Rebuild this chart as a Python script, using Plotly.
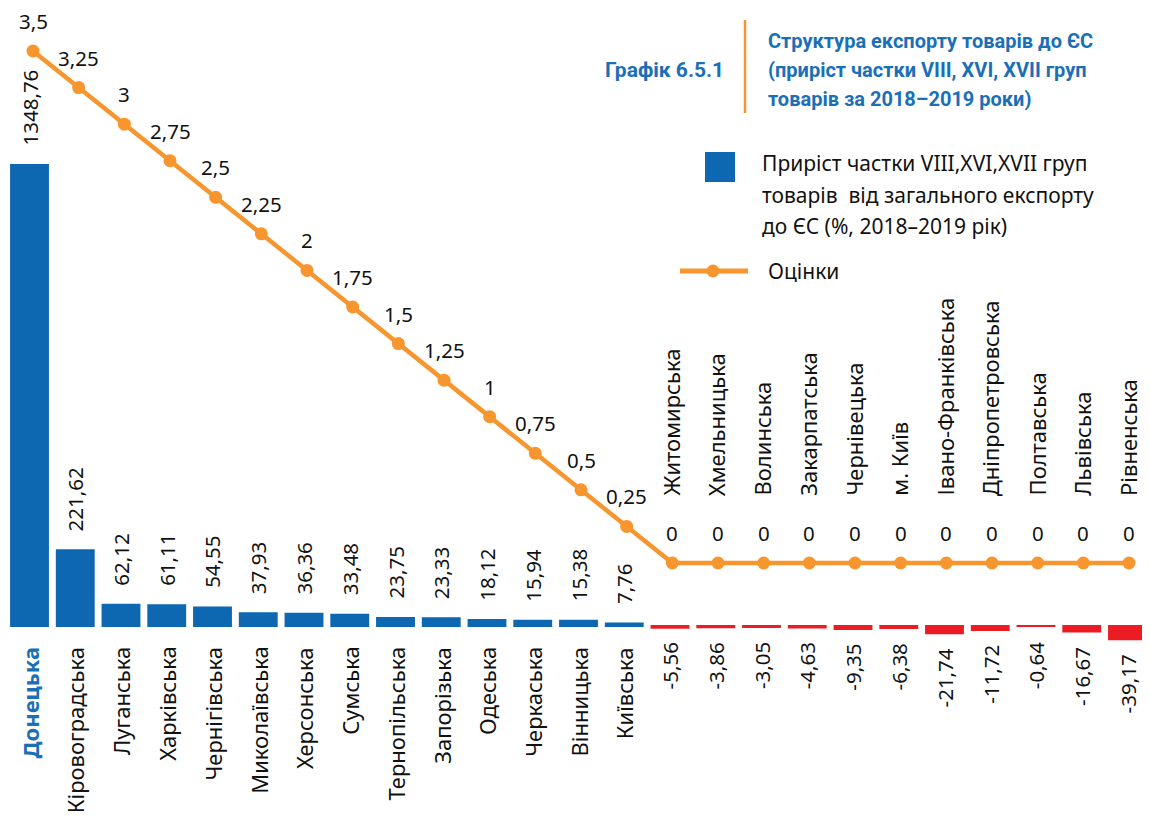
import plotly.graph_objects as go

regions = ["Донецька", "Кіровоградська", "Луганська", "Харківська", "Чернігівська",
           "Миколаївська", "Херсонська", "Сумська", "Тернопільська", "Запорізька",
           "Одеська", "Черкаська", "Вінницька", "Київська", "Житомирська",
           "Хмельницька", "Волинська", "Закарпатська", "Чернівецька", "м. Київ",
           "Івано-Франківська", "Дніпропетровська", "Полтавська", "Львівська", "Рівненська"]
growth = [1348.76, 221.62, 62.12, 61.11, 54.55, 37.93, 36.36, 33.48, 23.75, 23.33,
          18.12, 15.94, 15.38, 7.76, -5.56, -3.86, -3.05, -4.63, -9.35, -6.38,
          -21.74, -11.72, -0.64, -16.67, -39.17]
scores = [3.5, 3.25, 3, 2.75, 2.5, 2.25, 2, 1.75, 1.5, 1.25, 1, 0.75, 0.5, 0.25,
          0, 0, 0, 0, 0, 0, 0, 0, 0, 0, 0]
title_lines = ["Структура експорту товарів до ЄС",
               "(приріст частки VIII, XVI, XVII груп",
               "товарів за 2018–2019 роки)"]
legend_lines = ["Приріст частки VIII,XVI,XVII груп",
                "товарів  від загального експорту",
                "до ЄС (%, 2018–2019 рік)"]

BLUE = "#0E67B1"
RED = "#ED1C24"
ORANGE = "#F7962F"
TITLE_BLUE = "#1B6FB7"
FONT = "Noto Sans"
TFONT = "Liberation Sans Narrow, Roboto"

W, H = 1150, 817
OFF = 8  # page offset of the figure (body margin)
PW, PH = W, H


def fmt(v):
    return f"{v:g}".replace(".", ",")


def px_x(p):
    return (p - OFF) / PW


def px_y(p):
    return 1 - (p - OFF) / PH


bar_colors = [BLUE if v >= 0 else RED for v in growth]

fig = go.Figure()
fig.add_trace(go.Bar(
    x=regions, y=growth, marker=dict(color=bar_colors, line=dict(color=bar_colors, width=1.8)),
    name="Приріст частки", showlegend=False, hoverinfo="x+y"))
fig.add_trace(go.Scatter(
    x=regions, y=scores, xaxis="x2", yaxis="y2", mode="lines+markers",
    line=dict(color=ORANGE, width=4.5), marker=dict(color=ORANGE, size=13),
    name="Оцінки", showlegend=False))

ann = []
for i, (r, v) in enumerate(zip(regions, growth)):
    if v >= 0:
        txt = f"<b>{r}</b>" if i == 0 else r
        col = TITLE_BLUE if i == 0 else "#111111"
        ann.append(dict(x=r, y=0, xref="x", yref="y", text=txt, textangle=-90,
                        xanchor="center", yanchor="top", yshift=-19, showarrow=False,
                        font=dict(family=FONT, size=22, color=col)))
        ann.append(dict(x=r, y=v, xref="x", yref="y", text=fmt(v), textangle=-90,
                        xanchor="center", yanchor="bottom", yshift=17, showarrow=False,
                        font=dict(family=FONT, size=20.5, color="#111111")))
    else:
        ann.append(dict(x=r, y=0, xref="x", yref="y", text=r, textangle=-90,
                        xanchor="center", yanchor="bottom", yshift=128, showarrow=False,
                        font=dict(family=FONT, size=22, color="#111111")))
        ann.append(dict(x=r, y=v, xref="x", yref="y", text=fmt(v), textangle=-90,
                        xanchor="center", yanchor="top", yshift=-13, showarrow=False,
                        font=dict(family=FONT, size=20.5, color="#111111")))

for r, s in zip(regions, scores):
    ann.append(dict(x=r, y=s, xref="x2", yref="y2", text=fmt(s), xanchor="center",
                    yanchor="middle", yshift=30, showarrow=False,
                    font=dict(family=FONT, size=20.5, color="#111111")))

ann.append(dict(x=px_x(726), y=px_y(70), xref="paper", yref="paper", text="<b>Графік 6.5.1</b>",
                xanchor="right", yanchor="middle", showarrow=False,
                font=dict(family=TFONT, size=21, color=TITLE_BLUE)))
for line, py in zip(title_lines, [41, 70, 99]):
    ann.append(dict(x=px_x(766), y=px_y(py), xref="paper", yref="paper", text=f"<b>{line}</b>",
                    xanchor="left", yanchor="middle", showarrow=False,
                    font=dict(family=TFONT, size=20, color=TITLE_BLUE)))
for line, py in zip(legend_lines, [163, 195, 226]):
    ann.append(dict(x=px_x(760), y=px_y(py), xref="paper", yref="paper", text=line,
                    xanchor="left", yanchor="middle", showarrow=False,
                    font=dict(family=FONT, size=21, color="#111111")))
ann.append(dict(x=px_x(766), y=px_y(271), xref="paper", yref="paper", text="Оцінки",
                xanchor="left", yanchor="middle", showarrow=False,
                font=dict(family=FONT, size=21, color="#111111")))

shapes = [
    dict(type="line", xref="paper", yref="paper", x0=px_x(745), x1=px_x(745),
         y0=px_y(20), y1=px_y(113), line=dict(color=ORANGE, width=2.5)),
    dict(type="rect", xref="paper", yref="paper", x0=px_x(705), x1=px_x(735),
         y0=px_y(152), y1=px_y(182), fillcolor=BLUE, line=dict(width=0)),
    dict(type="line", xref="paper", yref="paper", x0=px_x(680), x1=px_x(748),
         y0=px_y(271), y1=px_y(271), line=dict(color=ORANGE, width=5)),
    dict(type="circle", xref="paper", yref="paper", x0=px_x(706.5), x1=px_x(719.5),
         y0=px_y(264.5), y1=px_y(277.5), fillcolor=ORANGE, line=dict(width=0)),
]

# scales in page pixels: bars 0 at 626, 1348.76 at 165; scores 0 at 563, 3.5 at 51
k1 = (626 - 165) / 1348.76
y1max = (626 - OFF) / k1
y1min = y1max - PH / k1
k2 = (563 - 51) / 3.5
y2max = (563 - OFF) / k2
y2min = y2max - PH / k2
# bar categories: first centre at page 29.5, last at 1127.5
cw = (1127.5 - 29.5) / 24
x0 = -(29.5 - OFF) / cw
x1 = x0 + PW / cw
# line points: first at page 33, last at 1129
cw2 = (1129 - 33) / 24
xx0 = -(33 - OFF) / cw2
xx1 = xx0 + PW / cw2

fig.update_layout(
    width=W, height=H, margin=dict(l=0, r=0, t=0, b=0),
    paper_bgcolor="white", plot_bgcolor="white",
    bargap=0.19, showlegend=False,
    xaxis=dict(range=[x0, x1], showticklabels=False, showgrid=False,
               zeroline=False, showline=False, ticks=""),
    xaxis2=dict(range=[xx0, xx1], overlaying="x", visible=False, showgrid=False,
                zeroline=False),
    yaxis=dict(range=[y1min, y1max], visible=False, showgrid=False, zeroline=False),
    yaxis2=dict(range=[y2min, y2max], visible=False, overlaying="y", showgrid=False,
                zeroline=False),
    annotations=ann, shapes=shapes,
)

fig.write_html("out.html")
